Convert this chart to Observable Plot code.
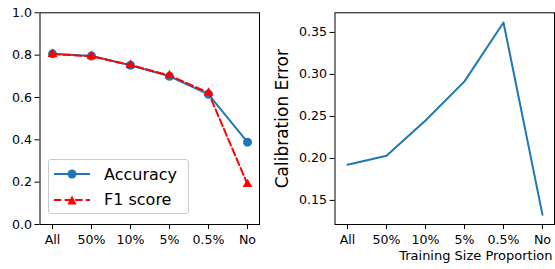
<!DOCTYPE html>
<html><head><meta charset="utf-8">
<script src="https://cdn.jsdelivr.net/npm/d3@7"></script>
<script src="https://cdn.jsdelivr.net/npm/@observablehq/plot@0.6"></script>
<style>
body{margin:0;background:#fff;}
#wrap{position:relative;width:555px;height:269px;font-family:"DejaVu Sans",sans-serif;overflow:hidden;background:#fff}
#left,#right{position:absolute;top:0}
#left{left:0}
#right{left:268px}
.legend{position:absolute;left:48px;top:159px;width:141px;height:55px;box-sizing:border-box;border:1px solid #cccccc;border-radius:3px;background:rgba(255,255,255,0.8);}
.legend svg{position:absolute;left:5px}
.legend span{position:absolute;left:55px;font-size:16px;line-height:normal;color:#000;white-space:nowrap}
</style></head><body>
<div id="wrap">
  <div id="left"></div>
  <div id="right"></div>
  <div class="legend">
    <svg style="top:8px" width="36" height="12"><line x1="0" y1="6" x2="36" y2="6" stroke="#1f77b4" stroke-width="2"/><circle cx="18" cy="6" r="4.5" fill="#1f77b4"/></svg>
    <span style="top:4.5px">Accuracy</span>
    <svg style="top:34px" width="36" height="12"><line x1="0" y1="6" x2="36" y2="6" stroke="red" stroke-width="2" stroke-dasharray="7.4,3.2"/><polygon points="18,1.5 22.5,10.5 13.5,10.5" fill="red"/></svg>
    <span style="top:30px">F1 score</span>
  </div>
</div>
<script>
const categories = ["All", "50%", "10%", "5%", "0.5%", "No"];
const accuracy = [0.806, 0.796, 0.752, 0.700, 0.615, 0.389];
const f1 = [0.805, 0.795, 0.753, 0.704, 0.622, 0.190];
const calibration = [0.1925, 0.2032, 0.2452, 0.2917, 0.3619, 0.1328];
const yTicksLeft = [0, 0.2, 0.4, 0.6, 0.8, 1.0];
const yTicksRight = [0.15, 0.20, 0.25, 0.30, 0.35];

const rowsAcc = categories.map((c, i) => ({cat: c, value: accuracy[i]}));
const rowsF1 = categories.map((c, i) => ({cat: c, value: f1[i]}));
const rowsCal = categories.map((c, i) => ({cat: c, value: calibration[i]}));

const style = {fontFamily: "DejaVu Sans", fontSize: "12px", background: "white", color: "black", overflow: "visible"};
const TICK_FS = 12.6;

const left = Plot.plot({
  width: 277, height: 269,
  marginLeft: 39.5, marginRight: 18, marginTop: 12.3, marginBottom: 45,
  style,
  x: {type: "point", domain: categories, padding: 0.25},
  y: {domain: [0, 1]},
  marks: [
    Plot.frame({stroke: "black", strokeWidth: 1}),
    Plot.axisX({tickSize: 5, tickPadding: 6, fontSize: TICK_FS, label: null}),
    Plot.axisY({ticks: yTicksLeft, tickFormat: d3.format(".1f"), tickSize: 5, tickPadding: 3, fontSize: TICK_FS, label: null}),
    Plot.line(rowsAcc, {x: "cat", y: "value", stroke: "#1f77b4", strokeWidth: 2}),
    Plot.dot(rowsAcc, {x: "cat", y: "value", fill: "#1f77b4", r: 4.5, symbol: "circle"}),
    Plot.line(rowsF1, {x: "cat", y: "value", stroke: "red", strokeWidth: 2, strokeDasharray: "7.4,3.2"}),
    Plot.dot(rowsF1, {x: "cat", y: "value", fill: "red", r: 3.6, symbol: "triangle"})
  ]
});
document.getElementById("left").appendChild(left);

const right = Plot.plot({
  width: 287, height: 269,
  marginLeft: 66.5, marginRight: 1, marginTop: 12.3, marginBottom: 45,
  style,
  x: {type: "point", domain: categories, padding: 0.25},
  y: {domain: [0.1213, 0.3734]},
  marks: [
    Plot.frame({stroke: "black", strokeWidth: 1}),
    Plot.axisX({tickSize: 5, tickPadding: 6, fontSize: TICK_FS, label: null}),
    Plot.axisX({ticks: [], tickSize: 0, fontSize: 13, label: "Training Size Proportion", labelAnchor: "right", labelOffset: 35, labelArrow: "none"}),
    Plot.axisY({ticks: yTicksRight, tickFormat: d3.format(".2f"), tickSize: 5, tickPadding: 3, fontSize: TICK_FS, label: null}),
    Plot.axisY({ticks: [], tickSize: 0, fontSize: 17, label: "Calibration Error", labelAnchor: "center", labelOffset: 59.5, labelArrow: "none"}),
    Plot.line(rowsCal, {x: "cat", y: "value", stroke: "#1f77b4", strokeWidth: 2})
  ]
});
document.getElementById("right").appendChild(right);
</script>
</body></html>
